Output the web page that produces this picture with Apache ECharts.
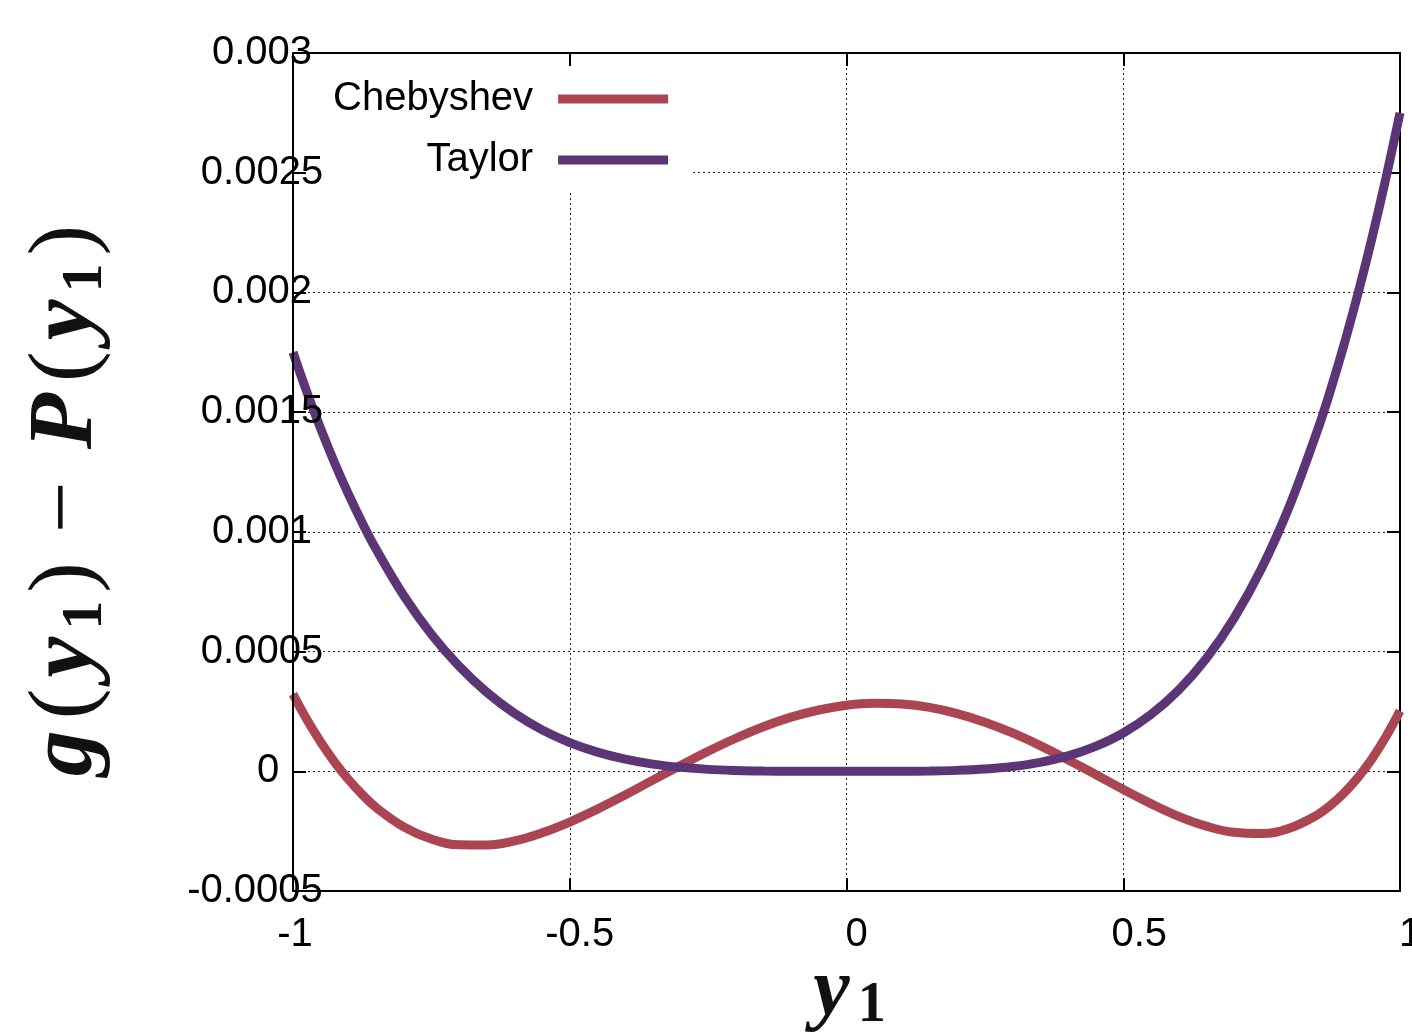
<!DOCTYPE html>
<html>
<head>
<meta charset="utf-8">
<title>g(y1) - P(y1)</title>
<script src="https://cdn.jsdelivr.net/npm/echarts@6/dist/echarts.min.js"></script>
<style>
  html, body { margin: 0; padding: 0; background: #fff; overflow: hidden; }
  #chart { width: 1412px; height: 1033px; }
</style>
</head>
<body>
<div id="chart"></div>
<script>
// Sample positions along y1 (denser near the interval ends where the curves bend sharply)
const xs = [-1, -0.975, -0.95, -0.925, -0.9, -0.875, -0.85, -0.8, -0.75, -0.7, -0.65, -0.6, -0.55,
  -0.5, -0.45, -0.4, -0.35, -0.3, -0.25, -0.2, -0.15, -0.1, -0.05,
  0, 0.05, 0.1, 0.15, 0.2, 0.25, 0.3, 0.35, 0.4, 0.45,
  0.5, 0.55, 0.6, 0.65, 0.7, 0.75, 0.8, 0.85, 0.875, 0.9, 0.925, 0.95, 0.975, 1];

// Error of the Chebyshev approximation
const chebyshev = [0.000322, 0.000216, 0.000122, 0.000039, -0.000034, -0.000097, -0.000151, -0.000232, -0.000283, -0.000307, -0.000308, -0.000291, -0.000257,
  -0.000212, -0.000158, -0.000099, -0.000037, 0.000024, 0.0000835, 0.000138, 0.000186, 0.000226, 0.000256,
  0.000276, 0.000284, 0.000281, 0.000267, 0.000241, 0.000205, 0.00016, 0.000107, 0.000048, -0.0000135,
  -0.000076, -0.000135, -0.000188, -0.000229, -0.000255, -0.00026, -0.000238, -0.000183, -0.000141, -0.000088, -0.000023, 0.000054, 0.000146, 0.000252];

// Error of the Taylor polynomial
const taylor = [0.00175, 0.001584, 0.001431, 0.001289, 0.0011585, 0.001038, 0.000928, 0.000734, 0.000572, 0.000439, 0.00033, 0.000242, 0.000173,
  0.00012, 0.00008, 0.0000506, 0.00003, 0.0000165, 0.000008, 0.0000034, 0.000001, 0.0000002, 0,
  0, 0, 0.0000002, 0.0000012, 0.0000038, 0.0000094, 0.0000198, 0.0000372, 0.0000641, 0.000104,
  0.00016, 0.000237, 0.000339, 0.000471, 0.000639, 0.000848, 0.001106, 0.001418, 0.001596, 0.001791, 0.002003, 0.002233, 0.002482, 0.00275];

const seriesNames = ['Chebyshev', 'Taylor'];
const seriesColors = ['#ab4552', '#5c3577'];

const xRange = { min: -1, max: 1, interval: 0.5 };
const yRange = { min: -0.0005, max: 0.003, interval: 0.0005 };

const labelFont = 'Liberation Sans, Arial, sans-serif';
const mathFont = 'Liberation Serif, Times New Roman, serif';

const gridLine = { show: true, lineStyle: { color: '#222', width: 1, type: [2, 3] } };
const frameLine = { show: true, onZero: false, lineStyle: { color: '#000', width: 2 } };
const innerTick = { show: true, inside: true, length: 13, lineStyle: { color: '#000', width: 2 } };

// Tick-label styles: small per-label nudges (left/right padding) as in the typeset original
const tickFont = { fontFamily: labelFont, fontSize: 40, color: '#000' };
const xTickRich = {
  t0: { ...tickFont, padding: [0, 0, 0, 4] },
  t1: { ...tickFont, padding: [0, 0, 0, 20] },
  t2: { ...tickFont, padding: [0, 0, 0, 20] },
  t3: { ...tickFont, padding: [0, 0, 0, 32] },
  t4: { ...tickFont, padding: [0, 0, 0, 20] }
};
const yTickRich = {
  t0: { ...tickFont, padding: [0, 14, 0, 0] },
  t1: { ...tickFont, padding: [0, 0, 0, 12] },
  t: { ...tickFont }
};

// Rich-text styles for the math-style axis titles
const yMathRich = {
  i: { fontFamily: mathFont, fontStyle: 'italic', fontWeight: 'bold', fontSize: 92, lineHeight: 96, color: '#111', padding: [0, 7, 0, 7] },
  p: { fontFamily: mathFont, fontWeight: 'normal', fontSize: 92, lineHeight: 96, color: '#111', padding: [0, 4, 0, 4] },
  m: { fontFamily: mathFont, fontWeight: 'normal', fontSize: 92, lineHeight: 96, color: '#111', padding: [0, 25, 0, 25] },
  s: { fontFamily: mathFont, fontWeight: 'bold', fontSize: 58, lineHeight: 76, verticalAlign: 'bottom', color: '#111', padding: [0, 4, 0, 0] }
};
const xMathRich = {
  i: { fontFamily: mathFont, fontStyle: 'italic', fontWeight: 'bold', fontSize: 82, lineHeight: 84, color: '#111', padding: [0, 8, 0, 6] },
  s: { fontFamily: mathFont, fontWeight: 'bold', fontSize: 56, lineHeight: 60, verticalAlign: 'bottom', color: '#111' }
};

const chart = echarts.init(document.getElementById('chart'), null, { renderer: 'canvas', width: 1412, height: 1033 });

chart.setOption({
  backgroundColor: '#fff',
  animation: false,
  grid: { left: 293, right: 12, top: 53, bottom: 142, containLabel: false, outerBoundsMode: 'none' },
  legend: {
    data: seriesNames,
    orient: 'vertical',
    align: 'right',
    left: 295,
    top: 53,
    padding: [26, 25, 12, 38],
    itemGap: 21,
    itemWidth: 110,
    itemHeight: 9,
    icon: 'rect',
    backgroundColor: '#fff',
    z: 4,
    formatter: name => '{n|' + name + '}{g| }',
    textStyle: {
      rich: {
        n: { width: 200, align: 'right', fontFamily: labelFont, fontSize: 40, lineHeight: 36, color: '#000' },
        g: { width: 20, fontSize: 10 }
      }
    }
  },
  xAxis: [
    {
      type: 'value', position: 'bottom', ...xRange,
      axisLine: frameLine, axisTick: innerTick, splitLine: gridLine,
      axisLabel: {
        ...tickFont, margin: 24,
        formatter: v => {
          const k = Math.round((v - xRange.min) / xRange.interval);
          return '{t' + k + '|' + String(+v.toFixed(2)) + '}';
        },
        rich: xTickRich
      },
      name: '{i|y}{s|1}',
      nameLocation: 'middle',
      nameGap: 60,
      nameMoveOverlap: false,
      nameTextStyle: { rich: xMathRich }
    },
    {
      type: 'value', position: 'top', ...xRange, z: 10,
      axisLine: frameLine, axisTick: innerTick, splitLine: { show: false }, axisLabel: { show: false }
    }
  ],
  yAxis: [
    {
      type: 'value', position: 'left', ...yRange, z: 10,
      axisLine: frameLine, axisTick: innerTick, splitLine: { show: false },
      axisLabel: {
        ...tickFont, margin: 31, align: 'center',
        formatter: v => {
          const k = Math.round((v - yRange.min) / yRange.interval);
          const style = k < 2 ? 't' + k : 't';
          return '{' + style + '|' + String(+v.toFixed(4)) + '}';
        },
        rich: yTickRich
      },
      name: '{i|g}{p|(}{i|y}{s|1}{p|)}{m|−}{i|P}{p|(}{i|y}{s|1}{p|)}',
      nameLocation: 'middle',
      nameGap: 178,
      nameMoveOverlap: false,
      nameTextStyle: { rich: yMathRich, padding: [0, 60, 0, 0] }
    },
    {
      type: 'value', position: 'right', ...yRange,
      axisLine: frameLine, axisTick: innerTick, splitLine: gridLine, axisLabel: { show: false }
    }
  ],
  series: seriesNames.map((name, k) => ({
    name,
    type: 'line',
    xAxisIndex: 0,
    yAxisIndex: 0,
    data: xs.map((x, i) => [x, (k === 0 ? chebyshev : taylor)[i]]),
    smooth: 0.4,
    showSymbol: false,
    clip: false,
    z: 3 + k,
    lineStyle: { width: 9, color: seriesColors[k], cap: 'butt' },
    itemStyle: { color: seriesColors[k] }
  }))
});
</script>
</body>
</html>
